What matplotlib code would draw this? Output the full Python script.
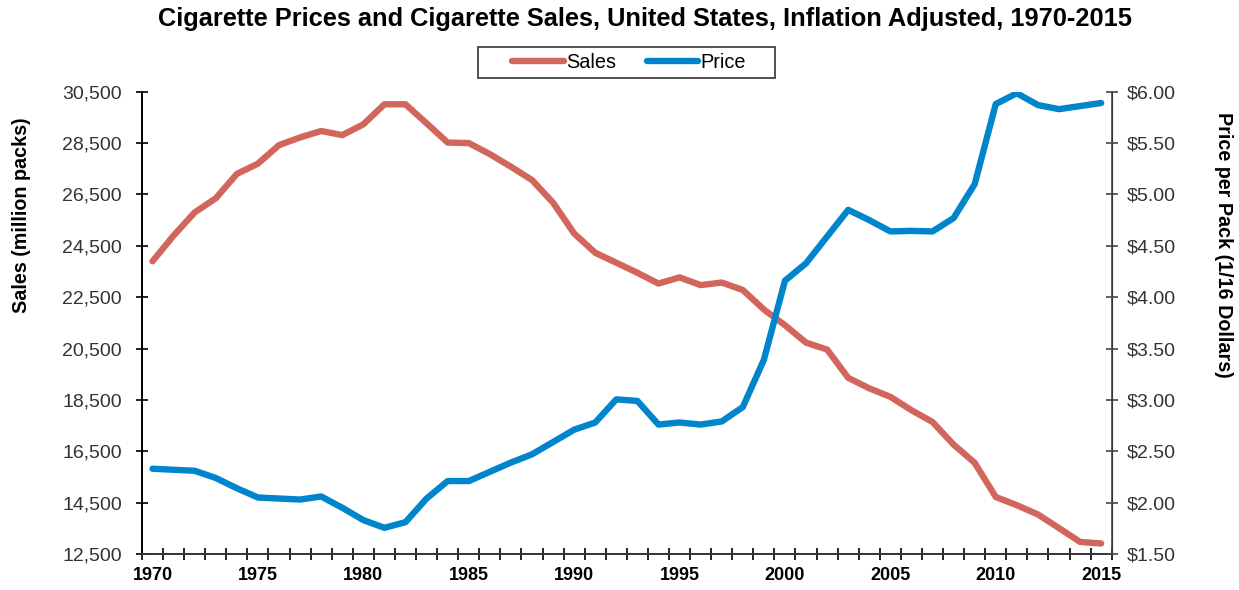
import numpy as np
import matplotlib
matplotlib.use("Agg")
import matplotlib.pyplot as plt
from matplotlib.patches import Rectangle
from matplotlib.ticker import FuncFormatter

plt.rcParams["font.family"] = ["Liberation Sans", "DejaVu Sans"]

# ---- data
years = list(range(1970, 2016))
sales = [23900, 24900, 25800, 26350, 27300, 27700, 28420, 28720, 28970, 28810,
         29230, 30010, 30010, 29270, 28520, 28500, 28070, 27580, 27060, 26180,
         24980, 24230, 23840, 23450, 23030, 23270, 22970, 23070, 22780, 22020,
         21410, 20730, 20460, 19360, 18950, 18620, 18100, 17640, 16760, 16050,
         14720, 14400, 14040, 13510, 12970, 12910]
price = [2.33, 2.32, 2.31, 2.24, 2.14, 2.05, 2.04, 2.03, 2.06, 1.95,
         1.83, 1.755, 1.81, 2.04, 2.21, 2.21, 2.30, 2.39, 2.47, 2.59,
         2.71, 2.78, 3.005, 2.99, 2.76, 2.78, 2.76, 2.79, 2.93, 3.39,
         4.16, 4.33, 4.59, 4.85, 4.75, 4.64, 4.645, 4.64, 4.77, 5.10,
         5.88, 5.985, 5.87, 5.83, 5.86, 5.89]
sales_ticks = np.arange(12500, 30501, 2000)
price_ticks = np.arange(1.5, 6.01, 0.5)
year_labels = list(range(1970, 2016, 5))

RED = "#D2665C"
BLUE = "#0085CC"
W, H = 1239, 590

fig = plt.figure(figsize=(W / 100, H / 100), dpi=100)
ax = fig.add_axes([142 / W, 1 - 554 / H, (1111.7 - 142) / W, (554 - 91.7) / H])
ax2 = ax.twinx()

l1, = ax.plot(years, sales, color=RED, lw=4.6, solid_capstyle="round", label="Sales")
l2, = ax2.plot(years, price, color=BLUE, lw=4.6, solid_capstyle="round", label="Price")

ax.set_xlim(years[0] - 0.5, years[-1] + 0.5)
ax.set_ylim(sales_ticks[0], sales_ticks[-1])
ax2.set_ylim(price_ticks[0], price_ticks[-1])

ax.set_yticks(sales_ticks)
ax.yaxis.set_major_formatter(FuncFormatter(lambda v, p: f"{v:,.0f}"))
ax2.set_yticks(price_ticks)
ax2.yaxis.set_major_formatter(FuncFormatter(lambda v, p: f"${v:.2f}"))

ax.set_xticks(year_labels)
ax.set_xticklabels([str(y) for y in year_labels], fontweight="bold", fontsize=13)
ax.set_xticks(np.arange(years[0] - 0.5, years[-1] + 1.0, 1.0), minor=True)
ax.tick_params(axis="x", which="major", length=0, pad=9)
ax.tick_params(axis="x", which="minor", direction="inout", length=9, width=1.2)

ax.tick_params(axis="y", direction="inout", length=9, width=1.2, labelsize=14,
               labelcolor="#333333", pad=10)
ax2.tick_params(axis="y", direction="inout", length=9, width=1.2, labelsize=14,
                labelcolor="#333333", pad=6, color="#444444")

for a in (ax, ax2):
    a.spines["top"].set_visible(False)
ax.spines["left"].set_linewidth(1.4)
ax.spines["bottom"].set_linewidth(1.4)
ax.spines["bottom"].set_color("#333333")
ax2.spines["left"].set_visible(False)
ax2.spines["bottom"].set_visible(False)
ax2.spines["right"].set_linewidth(1.2)
ax2.spines["right"].set_color("#444444")

# axis titles sit high, as in the original (not centred on the axes)
fig.text(22 / W, 1 - 215 / H, "Sales (million packs)", rotation=90, ha="center",
         va="center", fontweight="bold", fontsize=14.2)
fig.text(1224 / W, 1 - 245 / H, "Price per Pack (1/16 Dollars)", rotation=270,
         ha="center", va="center", fontweight="bold", fontsize=14.2)

fig.text(645 / W, 1 - 19 / H,
         "Cigarette Prices and Cigarette Sales, United States, Inflation Adjusted, 1970-2015",
         ha="center", va="center", fontweight="bold", fontsize=18.3)

# legend: frameless entries inside a hand-drawn box (wider side padding)
fig.patches.append(Rectangle((478 / W, 1 - 78 / H), 297 / W, 31 / H, transform=fig.transFigure,
                             fill=False, ec="#333333", lw=1.2))
fig.legend(handles=[l1, l2], loc="center", bbox_to_anchor=(629 / W, 1 - 62.5 / H), ncol=2,
           fontsize=14.3, frameon=False, handlelength=2.6, handletextpad=0.1,
           columnspacing=1.55, borderpad=0.0)

fig.savefig("out.png", dpi=100)
